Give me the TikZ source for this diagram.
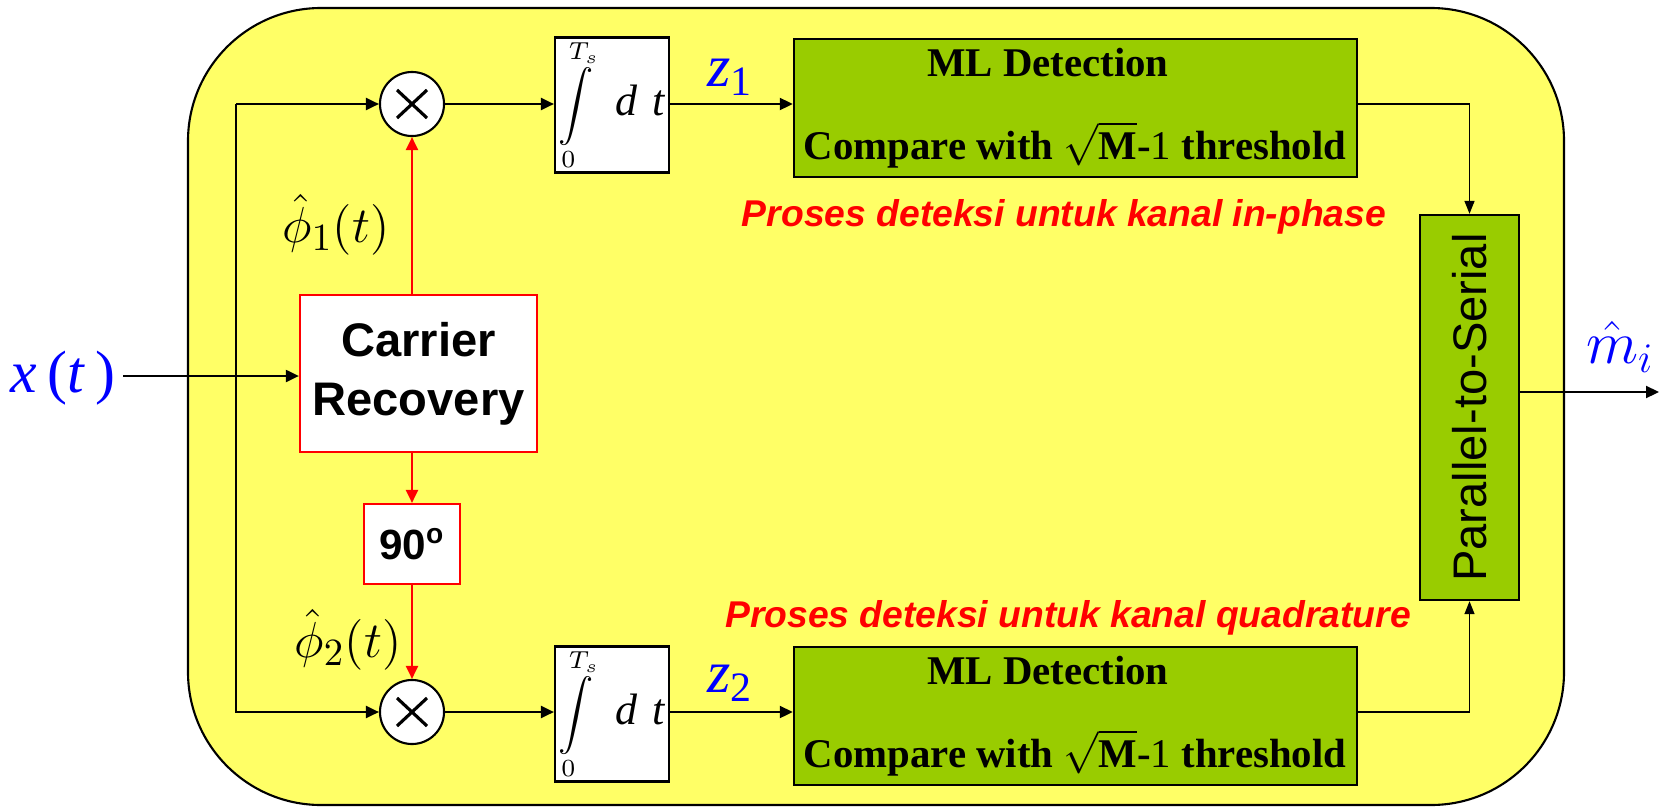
\documentclass[tikz,border=0pt]{standalone}
\usepackage{fontspec}
\usepackage{amsmath}
\setmainfont{Liberation Serif}
\setsansfont{Liberation Sans}
\usetikzlibrary{arrows.meta}
\definecolor{bgyellow}{HTML}{FFFF66}
\definecolor{mlgreen}{HTML}{99CC00}
\tikzset{frame/.style = {draw, fill = bgyellow, line width = 0.6pt, rounded corners = 1.33cm}}
\tikzset{sig/.style = {line width = 0.6pt, -{Triangle[length = 0.13cm, width = 0.12cm]}}}
\tikzset{thinsig/.style = {line width = 0.4pt, -{Triangle[length = 0.13cm, width = 0.1cm]}}}
\tikzset{redsig/.style = {red, line width = 0.6pt, -{Triangle[length = 0.13cm, width = 0.12cm]}}}
\tikzset{mult/.style = {draw, circle, fill = white, minimum size = 0.64cm, inner sep = 0, line width = 0.6pt,
    path picture = {\draw [line width = 0.9pt] (path picture bounding box.center) +(-0.15cm, -0.14cm) -- +(0.15cm, 0.14cm)
      (path picture bounding box.center) +(-0.15cm, 0.14cm) -- +(0.15cm, -0.14cm);}}}
\tikzset{intbox/.style = {draw, fill = white, minimum width = 1.14cm, minimum height = 1.35cm, inner sep = 0, line width = 0.6pt}}
\tikzset{mlbox/.style = {draw, fill = mlgreen, minimum width = 5.63cm, minimum height = 1.38cm, line width = 0.6pt}}
\tikzset{mltext/.style = {inner sep = 0, font = \fontsize{11.6}{13}\selectfont\bfseries}}
\tikzset{redbox/.style = {draw = red, fill = white, inner sep = 0, line width = 0.6pt, align = center,
    font = \sffamily\bfseries}}
\tikzset{psbox/.style = {draw, fill = mlgreen, minimum width = 3.85cm, minimum height = 0.99cm, rotate = 90,
    line width = 0.6pt, font = \sffamily\fontsize{13.4}{15}\selectfont}}
\tikzset{note/.style = {red, inner sep = 0, font = \sffamily\bfseries\itshape\fontsize{10.6}{12}\selectfont}}
\tikzset{bluelbl/.style = {blue, inner sep = 0, font = \fontsize{17}{19}\selectfont}}
\tikzset{phaselbl/.style = {inner sep = 0, font = \fontsize{15}{17}\selectfont}}
\newcommand{\intgr}{{\fontsize{10}{11}\selectfont$\displaystyle\int\limits_{0}^{T_s}$}\hspace{0.22cm}{\fontsize{12.5}{13}\selectfont\textit{d\,\,t}}}

\begin{document}
\begin{tikzpicture}[x = 0.01cm, y = -0.01cm]

    \useasboundingbox (0, 0) rectangle (1667, 806);
    \draw [frame] (188, 8) rectangle (1564, 805);

    \node [mult] (mul1) at (412, 104) {};
    \node [mult] (mul2) at (412, 712) {};
    \node [intbox] (int1) at (612, 105) {\intgr};
    \node [intbox] (int2) at (612, 714) {\intgr};
    \node [mlbox] (ml1) at (1075.5, 108) {};
    \node [mlbox] (ml2) at (1075.5, 716) {};
    \node [mltext] (ml1a) at (1048, 63) {ML Detection};
    \node [mltext] (ml1b) at (1075, 145) {Compare with $\sqrt{\text{M}}$-{\mdseries 1} threshold};
    \node [mltext] (ml2a) at (1048, 671) {ML Detection};
    \node [mltext] (ml2b) at (1075, 753) {Compare with $\sqrt{\text{M}}$-{\mdseries 1} threshold};
    \node [psbox] (ps) at (1469.5, 407.5) {Parallel-to-Serial};
    \node [redbox, minimum width = 2.37cm, minimum height = 1.57cm, font = \sffamily\bfseries\fontsize{13.4}{16.8}\selectfont]
      (cr) at (418.5, 373.5) {Carrier\\Recovery};
    \node [redbox, minimum width = 0.96cm, minimum height = 0.8cm, font = \sffamily\bfseries\fontsize{12}{14}\selectfont]
      (shift) at (412, 544) {90\textsuperscript{o}};

    \coordinate (fork) at (236, 104);
    \coordinate (xstart) at (123, 376);
    \coordinate (out) at (1659, 392);

    \node [bluelbl] (xin) at (63, 378) {\textit{x}\,(\textit{t}\,)};
    \node [bluelbl] (z1) at (730, 77) {\textit{z}\textsubscript{1}};
    \node [bluelbl] (z2) at (730, 683) {\textit{z}\textsubscript{2}};
    \node [bluelbl] (mhat) at (1620, 347) {$\hat{m}_i$};
    \node [phaselbl, anchor = east] (phi1) at (390, 225) {$\hat{\phi}_1(t)$};
    \node [phaselbl, anchor = east] (phi2) at (402, 640) {$\hat{\phi}_2(t)$};
    \node [note] (noteI) at (1064, 217) {Proses deteksi untuk kanal in-phase};
    \node [note] (noteQ) at (1068, 618) {Proses deteksi untuk kanal quadrature};

    \draw [sig] (xstart) -- (xstart -| cr.west);
    \draw [sig] (fork) -- (mul1);
    \draw [sig] (fork) |- (mul2);
    \draw [redsig] (mul1 |- cr.north) -- (mul1);
    \draw [redsig] (mul1 |- cr.south) -- (shift);
    \draw [redsig] (shift) -- (mul2);
    \draw [sig] (mul1) -- (mul1 -| int1.west);
    \draw [sig] (mul2) -- (mul2 -| int2.west);
    \draw [sig] (mul1 -| int1.east) -- (mul1 -| ml1.west);
    \draw [sig] (mul2 -| int2.east) -- (mul2 -| ml2.west);
    \draw [thinsig] (mul1 -| ml1.east) -| (ps.east);
    \draw [thinsig] (mul2 -| ml2.east) -| (ps.west);
    \draw [sig] (out -| ps.south) -- (out);
  \end{tikzpicture}
\end{document}
